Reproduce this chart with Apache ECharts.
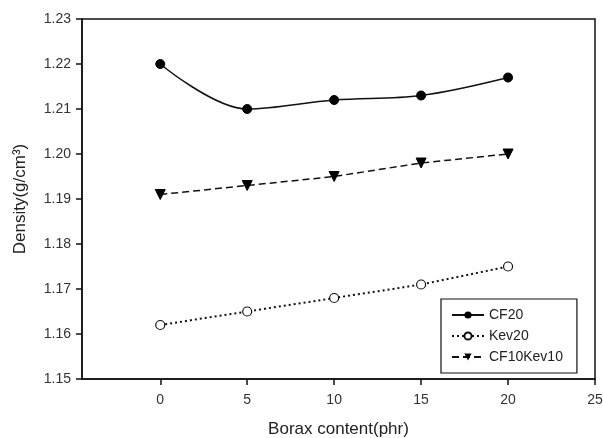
<!DOCTYPE html>
<html>
<head>
<meta charset="UTF-8">
<title>Density vs Borax content</title>
<script src="https://cdn.jsdelivr.net/npm/echarts@6/dist/echarts.min.js"></script>
<style>
  html, body { margin: 0; padding: 0; background: #fff; }
  #main { width: 603px; height: 438px; }
</style>
</head>
<body>
<div id="main"></div>
<script>
  // data
  const borax = [0, 5, 10, 15, 20];
  const cf20 = [1.220, 1.210, 1.212, 1.213, 1.217];
  const kev20 = [1.162, 1.165, 1.168, 1.171, 1.175];
  const cf10kev10 = [1.191, 1.193, 1.195, 1.198, 1.200];
  const xTicks = [0, 5, 10, 15, 20, 25];

  const font = 'Liberation Sans, Arial, sans-serif';
  const pairs = ys => borax.map((x, i) => [x, ys[i]]);

  const chart = echarts.init(document.getElementById('main'), null, { renderer: 'canvas' });
  chart.setOption({
    animation: false,
    backgroundColor: '#fff',
    grid: {
      left: 82, right: 8, top: 19, bottom: 59,
      outerBoundsMode: 'none',
      containLabel: false,
      show: true, borderColor: '#111', borderWidth: 1.5, backgroundColor: 'transparent'
    },
    xAxis: {
      type: 'value',
      min: -4.5,
      max: 25,
      name: 'Borax content(phr)',
      nameLocation: 'middle',
      nameGap: 42,
      nameTextStyle: { fontFamily: font, fontSize: 17, color: '#222' },
      axisLine: { show: true, onZero: false, lineStyle: { color: '#111', width: 1.5 } },
      axisTick: { show: true, inside: false, length: 6, customValues: xTicks, lineStyle: { color: '#111', width: 1.5 } },
      axisLabel: { customValues: xTicks, fontFamily: font, fontSize: 14, color: '#333', margin: 14 },
      splitLine: { show: false }
    },
    yAxis: {
      type: 'value',
      min: 1.15,
      max: 1.23,
      interval: 0.01,
      name: 'Density(g/cm³)',
      nameLocation: 'middle',
      nameGap: 53,
      nameTextStyle: { fontFamily: font, fontSize: 17, color: '#222' },
      axisLine: { show: true, onZero: false, lineStyle: { color: '#111', width: 1.5 } },
      axisTick: { show: true, inside: false, length: 6, lineStyle: { color: '#111', width: 1.5 } },
      axisLabel: { fontFamily: font, fontSize: 14, color: '#333', margin: 11, formatter: v => v.toFixed(2) },
      splitLine: { show: false }
    },
    legend: {
      orient: 'vertical',
      left: 441,
      top: 299,
      padding: [9, 14, 9, 10],
      itemGap: 7,
      itemWidth: 32,
      itemHeight: 9,
      borderColor: '#111',
      borderWidth: 1.2,
      textStyle: { fontFamily: font, fontSize: 14, color: '#222' },
      data: ['CF20', 'Kev20', 'CF10Kev10']
    },
    series: [
      {
        name: 'CF20',
        type: 'line',
        smooth: 0.35,
        data: pairs(cf20),
        symbol: 'circle',
        symbolSize: 9,
        itemStyle: { color: '#000', borderColor: '#000' },
        lineStyle: { color: '#111', width: 1.5, type: 'solid' }
      },
      {
        name: 'Kev20',
        type: 'line',
        data: pairs(kev20),
        symbol: 'circle',
        symbolSize: 9,
        itemStyle: { color: '#fff', borderColor: '#111', borderWidth: 1.2 },
        lineStyle: { color: '#111', width: 2, type: [2, 3] }
      },
      {
        name: 'CF10Kev10',
        type: 'line',
        data: pairs(cf10kev10),
        symbol: 'triangle',
        symbolRotate: 180,
        symbolSize: 10,
        itemStyle: { color: '#000', borderColor: '#000' },
        lineStyle: { color: '#111', width: 1.5, type: [7, 4] }
      }
    ]
  });
</script>
</body>
</html>
